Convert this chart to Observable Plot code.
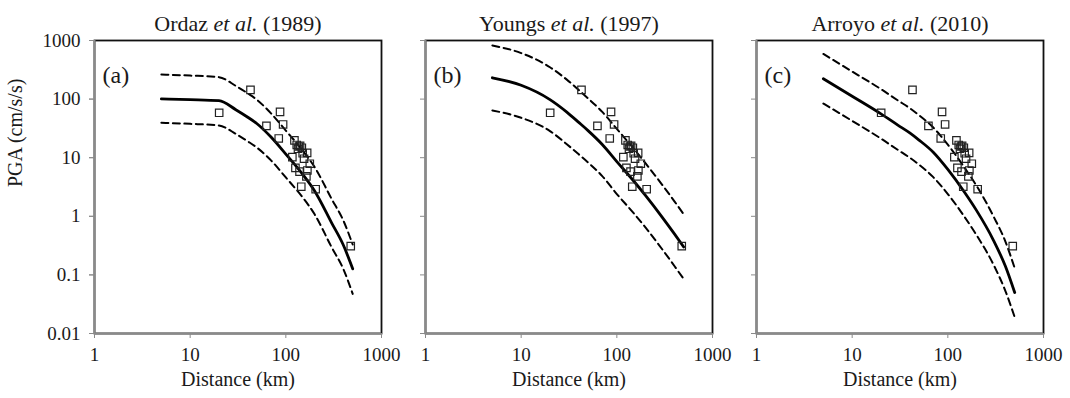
<!DOCTYPE html>
<html>
<head>
<meta charset="utf-8">
<script src="https://cdn.jsdelivr.net/npm/d3@7"></script>
<script src="https://cdn.jsdelivr.net/npm/@observablehq/plot@0.6"></script>
<style>
  html, body { margin: 0; padding: 0; background: #fff; }
</style>
</head>
<body>
<div id="chart"></div>
<script>
// ---- Data ----
const panels = ["a", "b", "c"];
const panelTitles = ["Ordaz et al. (1989)", "Youngs et al. (1997)", "Arroyo et al. (2010)"];
const panelLetters = ["(a)", "(b)", "(c)"];

const xTicks = [1, 10, 100, 1000];
const xTickLabels = ["1", "10", "100", "1000"];
const yTicks = [0.01, 0.1, 1, 10, 100, 1000];
const yTickLabels = ["0.01", "0.1", "1", "10", "100", "1000"];

// distances (km) at which the model curves were read
const distances = [5, 10, 20, 30, 40, 50, 70, 100, 150, 200, 300, 400, 500];

// Ordaz et al. (1989)
const ordazMedian = [101, 98, 94, 66, 49, 38, 22.5, 11.5, 5.2, 2.7, 0.78, 0.32, 0.127];
const ordazUpper  = [263, 252, 237, 168, 125, 97, 57, 29, 13.2, 6.9, 2.0, 0.84, 0.33];
const ordazLower  = [39.4, 37.8, 35.5, 25.5, 19, 14.8, 9.0, 4.6, 2.1, 1.08, 0.3, 0.125, 0.0475];

// Youngs et al. (1997)
const youngsMedian = [231, 172, 98, 60, 40, 29, 17, 8.6, 4.0, 2.25, 0.95, 0.5, 0.3];
const youngsUpper  = [822, 610, 350, 215, 143, 103, 61, 31, 14.3, 8.0, 3.4, 1.8, 1.08];
const youngsLower  = [64, 48, 28.5, 17, 11.4, 8.3, 4.9, 2.4, 1.13, 0.64, 0.27, 0.142, 0.085];

// Arroyo et al. (2010)
const arroyoMedian = [222, 112, 56, 36, 26.5, 20, 12.5, 6.3, 2.55, 1.25, 0.39, 0.14, 0.05];
const arroyoUpper  = [590, 295, 148, 95, 70, 53, 33, 16.7, 6.7, 3.3, 1.0, 0.37, 0.13];
const arroyoLower  = [84, 42.5, 21.2, 13.6, 10, 7.6, 4.7, 2.4, 0.97, 0.475, 0.15, 0.053, 0.019];

// recorded PGA values (same in every panel)
const obsDistance = [42.7, 20.1, 87, 62.7, 93.6, 84.3, 123, 130, 137, 141, 134, 147, 167, 150, 117, 155, 178, 126, 168, 139, 164, 145, 205, 477];
const obsPGA      = [144, 58.4, 60.7, 35, 36.9, 21.3, 19.7, 16.5, 15.5, 16, 14.2, 14.8, 12.1, 11.9, 10.2, 9.6, 7.9, 6.7, 6.05, 5.8, 4.8, 3.2, 2.9, 0.31];

// ---- Tables built from the arrays ----
const medians = [ordazMedian, youngsMedian, arroyoMedian];
const uppers = [ordazUpper, youngsUpper, arroyoUpper];
const lowers = [ordazLower, youngsLower, arroyoLower];

const medianRows = panels.flatMap((p, i) => distances.map((d, j) => ({panel: p, d, v: medians[i][j]})));
const boundRows = panels.flatMap((p, i) => [
  ...distances.map((d, j) => ({panel: p, kind: "upper", d, v: uppers[i][j]})),
  ...distances.map((d, j) => ({panel: p, kind: "lower", d, v: lowers[i][j]}))
]);
const obsRows = panels.flatMap(p => obsDistance.map((d, j) => ({panel: p, d, v: obsPGA[j]})));

const chart = Plot.plot({
  width: 1070,
  height: 398,
  marginLeft: 94,
  marginRight: 27,
  marginTop: 40,
  marginBottom: 65,
  style: {
    fontFamily: "'Liberation Serif', 'Times New Roman', serif",
    fontSize: "19px",
    color: "#1a1a1a",
    background: "#fff",
    overflow: "visible"
  },
  fx: {domain: panels, paddingInner: 0.133, paddingOuter: 0, axis: null, label: null},
  x: {type: "log", domain: [1, 1000]},
  y: {type: "log", domain: [0.01, 1000]},
  marks: [
    Plot.frame({stroke: "#111", strokeWidth: 1.8}),
    Plot.ruleX([1], {stroke: "#8a8a8a", strokeWidth: 2}),
    Plot.ruleY([0.01], {stroke: "#8a8a8a", strokeWidth: 2}),
    Plot.axisX({ticks: xTicks, tickFormat: d => xTickLabels[xTicks.indexOf(d)], tickSize: 5, tickPadding: 9,
      stroke: "#8a8a8a", fill: "#1a1a1a", fontSize: 19, label: null}),
    Plot.axisY({ticks: yTicks, tickFormat: () => "", tickSize: 5, anchor: "left",
      stroke: "#8a8a8a", label: null, facetAnchor: null}),
    Plot.axisY({ticks: yTicks, tickFormat: d => yTickLabels[yTicks.indexOf(d)], tickSize: 5, tickPadding: 9,
      anchor: "left", stroke: "#8a8a8a", fill: "#1a1a1a", fontSize: 19, label: null}),
    Plot.line(boundRows, {x: "d", y: "v", z: "kind", fx: "panel", stroke: "#000", strokeWidth: 2,
      strokeDasharray: "7,4.5", curve: "monotone-x"}),
    Plot.line(medianRows, {x: "d", y: "v", fx: "panel", stroke: "#000", strokeWidth: 2.8, curve: "monotone-x"}),
    Plot.dot(obsRows, {x: "d", y: "v", fx: "panel", symbol: "square", r: 4.2, stroke: "#222",
      strokeWidth: 1.2, fill: "none"}),
    Plot.text(panels, {fx: d => d, text: (d, i) => panelTitles[i], frameAnchor: "top", dy: -25, fontSize: 22}),
    Plot.text(panels, {fx: d => d, text: (d, i) => panelLetters[i], frameAnchor: "top-left", dx: 8, dy: 25,
      textAnchor: "start", fontSize: 24}),
    Plot.text(panels, {fx: d => d, text: () => "Distance (km)", frameAnchor: "bottom", dy: 52, fontSize: 20}),
    Plot.text(["a"], {fx: d => d, text: () => "PGA (cm/s/s)", frameAnchor: "left", rotate: -90, dx: -79, fontSize: 20})
  ]
});

// italicise "et al." in the panel titles
chart.querySelectorAll("text").forEach(t => {
  const s = t.textContent;
  if (s.includes(" et al. ")) {
    const [a, b] = s.split(" et al. ");
    while (t.firstChild) t.removeChild(t.firstChild);
    const ns = "http://www.w3.org/2000/svg";
    const t1 = document.createElementNS(ns, "tspan"); t1.textContent = a + " ";
    const t2 = document.createElementNS(ns, "tspan"); t2.textContent = "et al."; t2.setAttribute("font-style", "italic");
    const t3 = document.createElementNS(ns, "tspan"); t3.textContent = " " + b;
    t.append(t1, t2, t3);
  }
});

document.getElementById("chart").appendChild(chart);
</script>
</body>
</html>
